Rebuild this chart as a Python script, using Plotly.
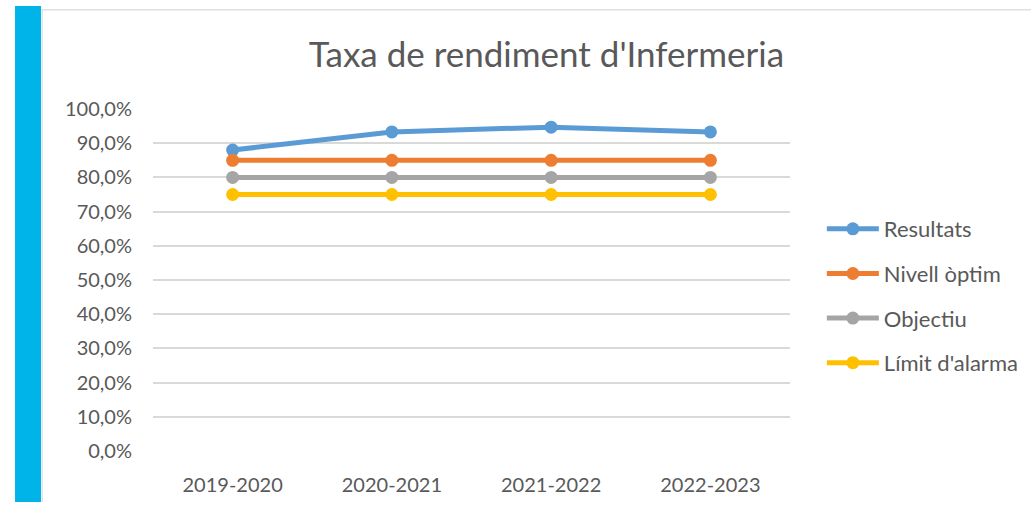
import plotly.graph_objects as go

categories = ["2019-2020", "2020-2021", "2021-2022", "2022-2023"]
resultats = [0.880, 0.933, 0.947, 0.933]
nivell_optim = [0.85, 0.85, 0.85, 0.85]
objectiu = [0.80, 0.80, 0.80, 0.80]
limit_alarma = [0.75, 0.75, 0.75, 0.75]
y_ticks = [i / 10 for i in range(11)]
y_tick_labels = [f"{int(v*100)},0%" for v in y_ticks]

series = [
    ("Resultats", resultats, "#5B9BD5"),
    ("Nivell òptim", nivell_optim, "#ED7D31"),
    ("Objectiu", objectiu, "#A5A5A5"),
    ("Límit d'alarma", limit_alarma, "#FFC000"),
]

font_family = "Lato, 'Open Sans', sans-serif"
fig = go.Figure()
for name, vals, color in series:
    fig.add_trace(go.Scatter(
        x=categories, y=vals, name=name, mode="lines+markers",
        legendgroup=name,
        line=dict(color=color, width=5),
        marker=dict(color=color, size=13),
    ))

fig.update_layout(
    width=1031, height=510,
    margin=dict(l=153, r=241, t=109, b=59, autoexpand=False),
    paper_bgcolor="white", plot_bgcolor="white",
    font=dict(family=font_family, color="#595959", size=20),
    title=dict(text="Taxa de rendiment d'Infermeria", x=0.53, xanchor="center",
               y=0.892, yanchor="middle",
               font=dict(size=35, color="#595959", family=font_family)),
    xaxis=dict(type="category", range=[-0.5, 3.5], showgrid=False, showline=False,
               zeroline=False, ticks="", tickfont=dict(size=20), ticklabelstandoff=20),
    yaxis=dict(range=[0, 1.0], tickvals=y_ticks, ticktext=y_tick_labels,
               showgrid=True, gridcolor="#D9D9D9", gridwidth=1.5, zeroline=False,
               showline=False, ticks="", tickfont=dict(size=20), ticklabelstandoff=20),
    legend=dict(x=1.05, xanchor="left", y=0.453, yanchor="middle", xref="paper",
                font=dict(size=22, color="#595959"), tracegroupgap=13,
                itemwidth=52, bgcolor="rgba(0,0,0,0)", indentation=0),
    showlegend=True,
    shapes=[
        dict(type="rect", xref="paper", yref="paper", x0=-0.2166, x1=-0.1758,
             y0=-0.149, y1=1.301, fillcolor="#00B4EA", line=dict(width=0), layer="below"),
        dict(type="line", xref="paper", yref="paper", x0=-0.1758, x1=1.38,
             y0=1.29, y1=1.29, line=dict(color="#E0E0E0", width=1.5)),
        dict(type="line", xref="paper", yref="paper", x0=-0.174, x1=-0.174,
             y0=-0.149, y1=1.29, line=dict(color="#E0E0E0", width=1.5)),
    ],
)

fig.write_html("out.html", config={"displayModeBar": False},
               post_script="document.body.style.margin='0';")
